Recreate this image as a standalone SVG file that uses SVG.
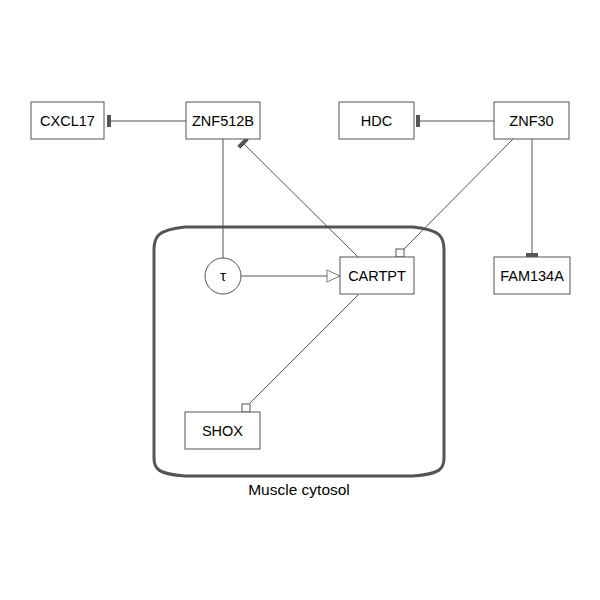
<svg xmlns="http://www.w3.org/2000/svg" width="600" height="600" viewBox="0 0 600 600">
<style>
.node rect{fill:#fff;stroke:#555;stroke-width:1}
.node circle{fill:#fff;stroke:#555;stroke-width:1}
text{font-family:"Liberation Sans",Arial,sans-serif;font-size:14.5px;fill:#000;text-anchor:middle;dominant-baseline:central}
.edge{stroke:#555;stroke-width:1;fill:none}
.bar{fill:#555}
.sq{fill:#fff;stroke:#555;stroke-width:1}
</style>
<rect width="600" height="600" fill="#fff"/>
<g id="compartment">
<path d="M154,250 C154,236 158,230 185,227 L413,227 C440,230 444,236 444,250 L444,458 C444,469 440,474 413,476 L185,476 C158,474 154,469 154,458 Z" fill="none" stroke="#555" stroke-width="3"/>
<text x="299" y="489" style="font-size:15.5px">Muscle cytosol</text>
</g>
<g id="connectors">
<line class="edge" x1="186" y1="121" x2="111" y2="121"/>
<rect class="bar" x="107" y="115" width="4" height="12"/>
<line class="edge" x1="494" y1="121" x2="420" y2="121"/>
<rect class="bar" x="416" y="115" width="4" height="12"/>
<line class="edge" x1="532" y1="139" x2="532" y2="253"/>
<rect class="bar" x="526" y="253" width="12" height="4"/>
<line class="edge" x1="223" y1="139" x2="223" y2="258"/>
<line class="edge" x1="241" y1="276" x2="327" y2="276"/>
<polygon points="327,270 340,276 327,282" fill="#fff" stroke="#777" stroke-width="1"/>
<line class="edge" x1="358" y1="257" x2="244" y2="144"/>
<rect class="bar" x="-6" y="-2" width="12" height="4" transform="translate(243,143) rotate(-45)"/>
<line class="edge" x1="513" y1="139" x2="404" y2="249"/>
<rect class="sq" x="396" y="249" width="8" height="8"/>
<line class="edge" x1="358" y1="295" x2="250" y2="403"/>
<rect class="sq" x="242" y="404" width="8" height="8"/>
</g>
<g id="CXCL17" class="node"><rect x="31" y="102" width="73" height="37"/><text x="67.5" y="121">CXCL17</text></g>
<g id="ZNF512B" class="node"><rect x="186" y="102" width="74" height="37"/><text x="223" y="121">ZNF512B</text></g>
<g id="HDC" class="node"><rect x="339" y="102" width="75" height="37"/><text x="376.5" y="121">HDC</text></g>
<g id="ZNF30" class="node"><rect x="494" y="102" width="75" height="37"/><text x="531.5" y="121">ZNF30</text></g>
<g id="FAM134A" class="node"><rect x="494" y="257" width="76" height="37"/><text x="532" y="276">FAM134A</text></g>
<g id="CARTPT" class="node"><rect x="340" y="257" width="74" height="37"/><text x="377" y="276">CARTPT</text></g>
<g id="tau" class="node"><circle cx="223" cy="276" r="18"/><text x="223" y="276">τ</text></g>
<g id="SHOX" class="node"><rect x="185" y="412" width="75" height="37"/><text x="222.5" y="431">SHOX</text></g>
</svg>
